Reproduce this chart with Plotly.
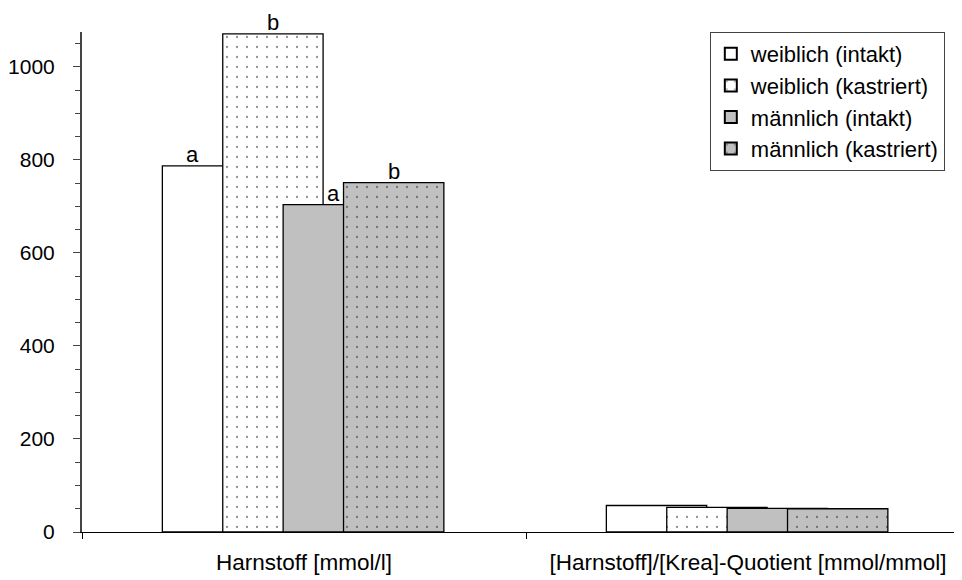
import plotly.graph_objects as go

categories = ["Harnstoff [mmol/l]", "[Harnstoff]/[Krea]-Quotient [mmol/mmol]"]
series_names = ["weiblich (intakt)", "weiblich (kastriert)", "männlich (intakt)", "männlich (kastriert)"]
w_intakt = [787, 57]
w_kastriert = [1071, 53]
m_intakt = [704, 51]
m_kastriert = [751, 50]
letters = ["a", "b", "a", "b"]  # only on first group

values = [w_intakt, w_kastriert, m_intakt, m_kastriert]
colors = ["white", "white", "#c0c0c0", "#c0c0c0"]
dotted = [False, True, False, True]

# bars overlap like Excel (overlap ~40%)
width = 0.226
step = 0.136
offsets = [-0.319 + i * step for i in range(4)]

FONT = "Liberation Sans, Arial, Helvetica, sans-serif"

fig = go.Figure()
for i, name in enumerate(series_names):
    fig.add_trace(
        go.Bar(
            name=name,
            x=categories,
            y=values[i],
            width=width,
            offset=offsets[i],
            marker=dict(
                color=colors[i],
                line=dict(color="black", width=1.3),
                pattern=dict(
                    shape="." if dotted[i] else "",
                    fgcolor="#222222",
                    bgcolor=colors[i],
                    size=10,
                    solidity=0.04,
                ),
            ),
        )
    )

# letters above first group, centred on the free part of each bar top
first = [v[0] for v in values]
for i, t in enumerate(letters):
    lo = offsets[i]
    hi = offsets[i] + width
    if i > 0 and first[i - 1] > first[i]:
        lo = offsets[i - 1] + width
    if i < 3 and first[i + 1] > first[i]:
        hi = offsets[i + 1]
    fig.add_annotation(
        x=(lo + hi) / 2,
        y=first[i],
        xref="x",
        yref="y",
        text=t,
        showarrow=False,
        yanchor="bottom",
        yshift=-3,
        font=dict(size=22, color="black", family=FONT),
    )

fig.update_layout(
    width=962,
    height=580,
    barmode="overlay",
    paper_bgcolor="white",
    plot_bgcolor="white",
    margin=dict(l=74, r=0, t=24, b=56),
    font=dict(family=FONT, size=22, color="black"),
    showlegend=True,
    legend=dict(
        x=0.707,
        y=1.0,
        xanchor="left",
        yanchor="top",
        bordercolor="#444444",
        borderwidth=1,
        bgcolor="white",
        font=dict(size=22),
        itemsizing="constant",
        itemwidth=30,
        tracegroupgap=0,
    ),
)
fig.update_xaxes(
    type="category",
    tickson="boundaries",
    ticks="outside",
    ticklen=6,
    tickcolor="black",
    showline=True,
    linecolor="black",
    linewidth=1,
    showgrid=False,
    range=[-0.5, 1.5],
    ticklabelstandoff=10,
    tickfont=dict(size=22.5),
)
fig.update_yaxes(
    range=[0, 1075],
    dtick=200,
    ticks="outside",
    ticklen=7,
    tickcolor="#444444",
    showline=True,
    linecolor="#444444",
    linewidth=2,
    showgrid=False,
    zeroline=False,
    ticklabelstandoff=14,
    minor=dict(dtick=50, ticks="outside", ticklen=5, tickcolor="#444444"),
    tickfont=dict(size=21),
)

fig.write_html("out.html")
